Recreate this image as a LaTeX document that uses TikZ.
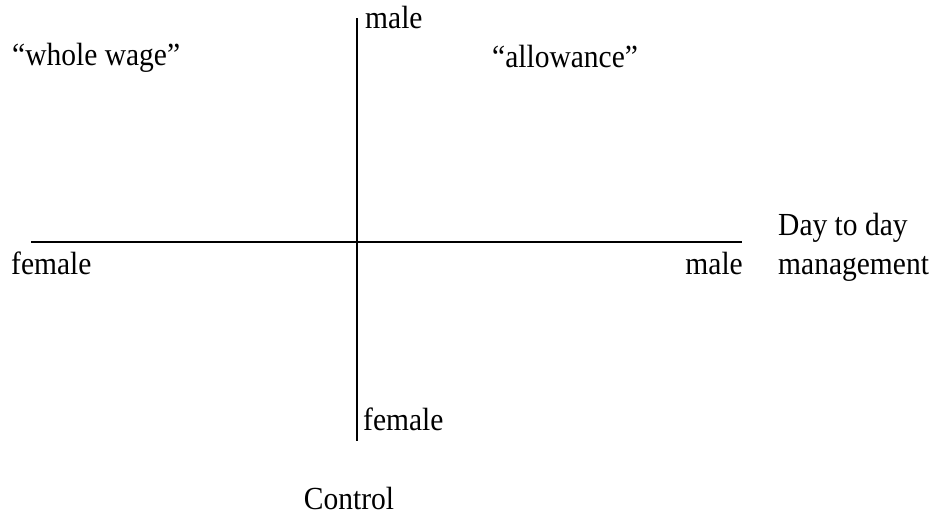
\documentclass[tikz,border=0pt]{standalone}
\usepackage{fontspec}
\setmainfont{Liberation Serif}
\newcommand{\tallt}[1]{\scalebox{1}[1.09]{#1}}
\begin{document}
\begin{tikzpicture}[x=1pt,y=-1pt,
  lbl/.style={inner sep=0pt,anchor=base west,font=\fontsize{29.5}{35}\selectfont},
  axis/.style={line width=1.8pt}]
\useasboundingbox (0,0) rectangle (936,522);
\coordinate (vtop) at (357,18);
\coordinate (vbot) at (357,441);
\coordinate (hl) at (31,242);
\coordinate (hr) at (742,242);
\draw[axis] (vtop) -- (vbot);
\draw[axis] (hl) -- (hr);
\node[lbl] (topmale) at (365,28) {\tallt{male}};
\node[lbl] (whole) at (12,65) {\tallt{“whole wage”}};
\node[lbl] (allow) at (492,67) {\tallt{“allowance”}};
\node[lbl] (lfemale) at (11,274) {\tallt{female}};
\node[lbl,anchor=base east] (rmale) at (743,274) {\tallt{male}};
\node[lbl] (day) at (778,235) {\tallt{Day to day}};
\node[lbl] (mgmt) at (778,274) {\tallt{management}};
\node[lbl] (bfemale) at (363,430) {\tallt{female}};
\node[lbl,anchor=base] (control) at (349,509) {\tallt{Control}};
\end{tikzpicture}
\end{document}
